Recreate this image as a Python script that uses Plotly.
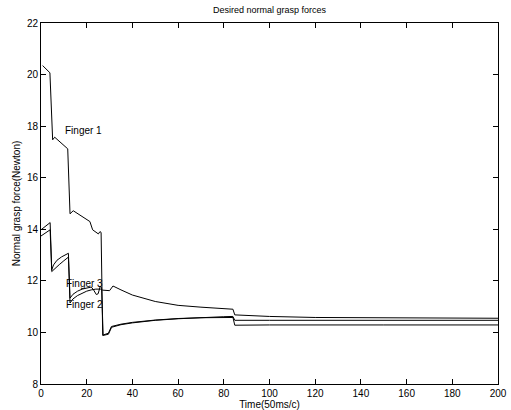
import plotly.graph_objects as go

# Finger 1
f1_x = [0.7, 3.9, 5.1, 6.0, 11.7, 12.7, 14.1, 21.4, 22.6, 23.6, 25.1, 25.8, 26.3, 27.0, 29.5, 30.9, 35, 40, 50, 60, 70, 80, 84, 84.8, 100, 150, 200]
f1_y = [20.35, 20.07, 17.47, 17.57, 17.12, 14.6, 14.72, 14.3, 13.98, 13.91, 13.82, 13.91, 13.88, 9.88, 9.93, 10.2, 10.3, 10.37, 10.47, 10.53, 10.58, 10.61, 10.62, 10.47, 10.47, 10.47, 10.47]

# Finger 2
f2_x = [0, 4.0, 4.7, 6, 8, 10, 12.0, 12.7, 14, 16, 18, 20, 22, 24, 26, 27, 30, 31.5, 35, 40, 50, 60, 70, 84, 84.8, 100, 120, 150, 200]
f2_y = [13.74, 13.98, 12.36, 12.48, 12.63, 12.78, 12.92, 11.14, 11.3, 11.43, 11.53, 11.6, 11.65, 11.68, 11.68, 11.64, 11.62, 11.8, 11.65, 11.45, 11.2, 11.05, 10.98, 10.9, 10.68, 10.62, 10.58, 10.56, 10.55]

# Finger 3
f3_x = [0, 4.0, 4.7, 5.5, 7, 9, 12.0, 12.7, 14, 16, 18, 20, 22, 23, 24.2, 25, 25.9, 26.5, 27.2, 29.5, 30.8, 35, 40, 50, 60, 70, 84, 84.8, 100, 150, 200]
f3_y = [13.98, 14.26, 12.43, 12.62, 12.8, 12.93, 13.07, 11.33, 11.48, 11.6, 11.68, 11.73, 11.76, 11.65, 11.47, 11.5, 11.78, 11.75, 9.9, 9.97, 10.23, 10.32, 10.39, 10.48, 10.54, 10.57, 10.58, 10.28, 10.29, 10.29, 10.29]

labels = ["Finger 1", "Finger 3", "Finger 2"]
label_x = [9.6, 10, 10]
label_y = [17.85, 11.9, 11.07]

x_ticks = [0, 20, 40, 60, 80, 100, 120, 140, 160, 180, 200]
y_ticks = [8, 10, 12, 14, 16, 18, 20, 22]

FONT = "Liberation Sans, Arial, sans-serif"

fig = go.Figure()
for xs, ys in [(f1_x, f1_y), (f2_x, f2_y), (f3_x, f3_y)]:
    fig.add_trace(go.Scatter(x=xs, y=ys, mode="lines",
                             line=dict(color="black", width=1),
                             showlegend=False, hoverinfo="skip"))

for t, lx, ly in zip(labels, label_x, label_y):
    fig.add_annotation(x=lx, y=ly, text=t, showarrow=False, xanchor="left",
                       font=dict(family=FONT, size=10, color="black"))

fig.add_annotation(x=0.5, y=1.0, xref="paper", yref="paper", yshift=13,
                   text="Desired normal grasp forces", showarrow=False,
                   xanchor="center", yanchor="middle",
                   font=dict(family=FONT, size=9, color="black"))

axis_common = dict(showgrid=False, zeroline=False, showline=True, linecolor="black",
                   linewidth=1, mirror="ticks", ticks="inside", ticklen=5,
                   tickcolor="black", automargin=False,
                   tickfont=dict(family=FONT, size=10, color="black"))

fig.update_xaxes(range=[0, 200], tickvals=x_ticks,
                 title=dict(text="Time(50ms/c)", standoff=2,
                            font=dict(family=FONT, size=10, color="black")),
                 **axis_common)
fig.update_yaxes(range=[8, 22], tickvals=y_ticks,
                 title=dict(text="Normal grasp force(Newton)", standoff=4,
                            font=dict(family=FONT, size=10, color="black")),
                 **axis_common)

fig.update_layout(
    width=511, height=410,
    margin=dict(l=41, r=13, t=23, b=26),
    paper_bgcolor="white", plot_bgcolor="white",
)

fig.write_html("out.html", config={"displayModeBar": False},
               post_script="document.body.style.margin='0px';document.body.style.overflow='hidden';")
